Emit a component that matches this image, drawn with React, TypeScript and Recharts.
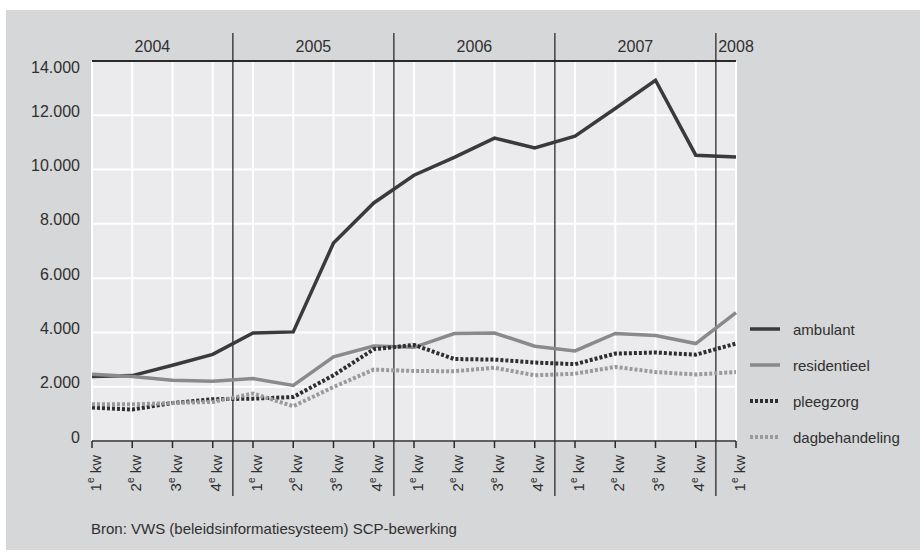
import React from 'react';
import { LineChart, Line, XAxis, YAxis, CartesianGrid, ReferenceLine, Legend } from 'recharts';

const quarters = ['1', '2', '3', '4', '1', '2', '3', '4', '1', '2', '3', '4', '1', '2', '3', '4', '1'];
const quarterYears = ['2004', '2004', '2004', '2004', '2005', '2005', '2005', '2005', '2006', '2006', '2006', '2006', '2007', '2007', '2007', '2007', '2008'];
const ambulant = [2380, 2410, 2790, 3190, 3980, 4020, 7290, 8770, 9790, 10450, 11160, 10800, 11230, 12250, 13290, 10530, 10460];
const residentieel = [2460, 2380, 2240, 2200, 2300, 2050, 3100, 3500, 3450, 3960, 3980, 3490, 3320, 3960, 3890, 3590, 4730];
const pleegzorg = [1230, 1160, 1400, 1540, 1560, 1620, 2420, 3380, 3540, 3020, 3000, 2890, 2830, 3220, 3260, 3180, 3590];
const dagbehandeling = [1350, 1350, 1400, 1440, 1750, 1280, 1990, 2630, 2580, 2570, 2700, 2420, 2480, 2730, 2540, 2450, 2540];
const yTicks = [0, 2000, 4000, 6000, 8000, 10000, 12000, 14000];
const sourceText = 'Bron: VWS (beleidsinformatiesysteem) SCP-bewerking';

const series = [
  { key: 'ambulant', name: 'ambulant', color: '#3a3a3a', dash: undefined as string | undefined, width: 3.5 },
  { key: 'residentieel', name: 'residentieel', color: '#8a8a8a', dash: undefined as string | undefined, width: 3.5 },
  { key: 'pleegzorg', name: 'pleegzorg', color: '#2e2e2e', dash: '3 2', width: 4 },
  { key: 'dagbehandeling', name: 'dagbehandeling', color: '#9a9a9a', dash: '3 2', width: 4 },
];

const data = quarters.map((q, i) => ({
  i,
  q,
  year: quarterYears[i],
  ambulant: ambulant[i],
  residentieel: residentieel[i],
  pleegzorg: pleegzorg[i],
  dagbehandeling: dagbehandeling[i],
}));

// year groups derived from categories
const yearNames = Array.from(new Set(quarterYears));
const yearCenters = yearNames.map((y) => {
  const idx = quarterYears.map((v, i) => (v === y ? i : -1)).filter((i) => i >= 0);
  return { year: y, center: idx.reduce((a, b) => a + b, 0) / idx.length, first: idx[0] };
});
const separators = yearCenters.slice(1).map((y) => y.first - 0.5);

const TEXT = '#2f2f2f';
const FONT = '"Liberation Sans", Arial, sans-serif';

const fmt = (v: number) => String(v).replace(/\B(?=(\d{3})+(?!\d))/g, '.');

const YTick = (props: any) => {
  const { x, y, payload } = props;
  const top = payload.value === 14000;
  return (
    <text x={x} y={y + (top ? 6 : -4)} textAnchor="end" dominantBaseline="central" fontSize={16} fill={TEXT} fontFamily={FONT}>
      {fmt(payload.value)}
    </text>
  );
};

const XTick = (props: any) => {
  const { x, y, payload } = props;
  const q = quarters[payload.value];
  return (
    <text transform={`translate(${x + 3},${y + 7}) rotate(-90)`} textAnchor="end" dominantBaseline="central" fontSize={15} fill={TEXT} fontFamily={FONT}>
      {q}
      <tspan dy={-5} fontSize={10}>e</tspan>
      <tspan dy={5}> kw</tspan>
    </text>
  );
};

const SepLine = (p: any) => {
  const top = Math.min(p.y1, p.y2);
  const bottom = Math.max(p.y1, p.y2);
  return <line x1={p.x1} x2={p.x2} y1={top - 28} y2={bottom + 55} stroke="#1e1e1e" strokeWidth={1.2} />;
};

const LegendContent = () => (
  <div style={{ position: 'relative', fontFamily: FONT, fontSize: 15, color: TEXT }}>
    {series.map((s, k) => (
      <div key={s.key} style={{ position: 'absolute', left: 0, top: k * 36, height: 22, width: 170, display: 'flex', alignItems: 'center' }}>
        <svg width={32} height={10} style={{ display: 'block' }}>
          <line x1={1} x2={31} y1={5} y2={5} stroke={s.color} strokeWidth={s.width} strokeDasharray={s.dash} />
        </svg>
        <span style={{ marginLeft: 12 }}>{s.name}</span>
      </div>
    ))}
  </div>
);

export default function App() {
  return (
    <div style={{ position: 'absolute', left: 0, top: 0, width: 920, height: 553, background: '#ffffff', overflow: 'hidden' }}>
      <div style={{ position: 'absolute', left: 6, top: 10, width: 914, height: 540, background: '#d6d7d9' }} />
      <div style={{ position: 'absolute', left: 0, top: 0 }}>
        <LineChart width={920} height={553} data={data} margin={{ top: 61, right: 184, bottom: 52, left: 0 }}>
          <CartesianGrid fill="#ebebed" stroke="#ffffff" strokeWidth={2} />
          <XAxis
            dataKey="i"
            type="number"
            domain={[0, 16]}
            ticks={data.map((d) => d.i)}
            interval={0}
            height={60}
            tick={<XTick />}
            tickSize={7}
            tickMargin={0}
            axisLine={{ stroke: '#2a2a2a', strokeWidth: 1.5 }}
            tickLine={{ stroke: '#2a2a2a', strokeWidth: 1.5 }}
          />
          <YAxis
            width={92}
            domain={[0, 14000]}
            ticks={yTicks}
            interval={0}
            axisLine={false}
            tickLine={false}
            tickSize={0}
            tickMargin={12}
            tick={<YTick />}
          />
          <ReferenceLine y={14000} stroke="#2a2a2a" strokeWidth={2} />
          {separators.map((s) => (
            <ReferenceLine key={s} x={s} shape={<SepLine />} />
          ))}
          {yearCenters.map((y) => (
            <ReferenceLine
              key={y.year}
              x={y.center}
              stroke="none"
              label={{ value: y.year, position: 'top', offset: 9, fill: TEXT, fontSize: 16, fontFamily: FONT }}
            />
          ))}
          {series.map((s) => (
            <Line
              key={s.key}
              type="linear"
              dataKey={s.key}
              name={s.name}
              stroke={s.color}
              strokeWidth={s.width}
              strokeDasharray={s.dash}
              dot={false}
              activeDot={false}
              isAnimationActive={false}
            />
          ))}
          <Legend
            content={<LegendContent />}
            wrapperStyle={{ position: 'absolute', left: 749, top: 318, width: 170, height: 0, overflow: 'visible' }}
          />
        </LineChart>
      </div>
      <div style={{ position: 'absolute', left: 91, top: 520, fontFamily: FONT, fontSize: 15, color: TEXT, whiteSpace: 'nowrap' }}>
        {sourceText}
      </div>
    </div>
  );
}
